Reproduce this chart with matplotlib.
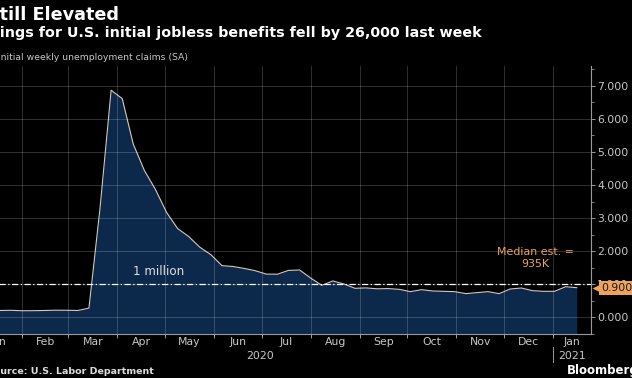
import numpy as np
import pandas as pd
import matplotlib
matplotlib.use("Agg")
from matplotlib import pyplot as plt
import matplotlib.dates as mdates
import matplotlib.transforms as mtransforms
from matplotlib.ticker import MultipleLocator, FixedLocator, FixedFormatter, NullFormatter, FormatStrFormatter

# weekly initial jobless claims (SA), millions, week ending Saturday
weeks = pd.date_range("2020-01-04", "2021-01-16", freq="W-SAT")
claims = [0.214, 0.207, 0.211, 0.216, 0.202, 0.205, 0.211, 0.219, 0.217, 0.211,
          0.282, 3.307, 6.867, 6.615, 5.237, 4.442, 3.867, 3.176, 2.687, 2.446,
          2.123, 1.897, 1.566, 1.540, 1.482, 1.413, 1.310, 1.307, 1.422, 1.435,
          1.191, 0.971, 1.104, 1.011, 0.881, 0.893, 0.866, 0.873, 0.849, 0.780,
          0.840, 0.800, 0.790, 0.780, 0.720, 0.750, 0.780, 0.720, 0.860, 0.890,
          0.810, 0.790, 0.790, 0.930, 0.900]
last_value = 0.900
median_est = "935K"
ref_level = 1.0  # 1 million line

month_names = ["Jan", "Feb", "Mar", "Apr", "May", "Jun", "Jul",
               "Aug", "Sep", "Oct", "Nov", "Dec", "Jan"]
x_start = pd.Timestamp("2019-12-28")
x_end = pd.Timestamp("2021-01-25")
year_split = pd.Timestamp("2021-01-01")

navy = "#0c284b"
line_col = "#d6c8bd"
orange = "#eea35c"
txt_col = "#c8c8c8"

fig = plt.figure(figsize=(6.32, 3.78), dpi=100, facecolor="black")
ax = fig.add_axes([-33 / 632, 44 / 378, 624 / 632, 268 / 378])
ax.set_facecolor("black")

ax.fill_between(weeks, claims, -0.5, color=navy, lw=0, zorder=1)
ax.plot(weeks, claims, color=line_col, lw=0.8, zorder=2)
ax.axhline(ref_level, color="white", lw=0.9, linestyle=(0, (5, 2, 1, 2)), zorder=3)

ax.set_xlim(x_start, x_end)
ax.set_ylim(-0.5, 7.6)

# y axis on the right
ax.yaxis.tick_right()
ax.yaxis.set_major_locator(MultipleLocator(1))
ax.yaxis.set_minor_locator(MultipleLocator(0.5))
ax.yaxis.set_major_formatter(FormatStrFormatter("%.3f"))
ax.tick_params(axis="y", which="major", length=3, width=0.7, color="#999999",
               labelcolor=txt_col, labelsize=7.8, pad=1.5)
ax.tick_params(axis="y", which="minor", length=2, width=0.6, color="#999999")

# x axis: ticks at month starts, labels mid month
month_starts = pd.date_range("2020-01-01", "2021-02-01", freq="MS")
ax.xaxis.set_major_locator(mdates.MonthLocator())
ax.xaxis.set_major_formatter(NullFormatter())
mids = []
for i in range(len(month_names)):
    a = max(month_starts[i], x_start)
    b = min(month_starts[i + 1], x_end)
    mids.append(mdates.date2num(a + (b - a) / 2))
ax.xaxis.set_minor_locator(FixedLocator(mids))
ax.xaxis.set_minor_formatter(FixedFormatter(month_names))
ax.tick_params(axis="x", which="major", length=3, width=0.7, color="#999999")
ax.tick_params(axis="x", which="minor", length=0, labelcolor=txt_col,
               labelsize=7.8, pad=2)

for s in ["top", "left"]:
    ax.spines[s].set_visible(False)
for s in ["right", "bottom"]:
    ax.spines[s].set_color("#9a9a9a")
    ax.spines[s].set_linewidth(0.8)

ax.set_axisbelow(False)
ax.grid(True, which="major", color="white", alpha=0.22, lw=0.6)

# year labels
trans = mtransforms.blended_transform_factory(ax.transData, ax.transAxes)
ax.text(x_start + (year_split - x_start) / 2, -0.082, "2020", transform=trans,
        ha="center", va="center", color=txt_col, fontsize=7.8)
ax.text(year_split + (x_end - year_split) / 2, -0.082, "2021", transform=trans,
        ha="center", va="center", color=txt_col, fontsize=7.8)
ax.plot([year_split, year_split], [-0.048, -0.105], transform=trans,
        color="#9a9a9a", lw=0.7, clip_on=False)

# annotations
ax.text(pd.Timestamp("2020-04-27"), 1.39, "1 million", color="#e0e0e0",
        fontsize=8.6, ha="center", va="center", zorder=4)
ax.text(pd.Timestamp("2020-12-21"), 1.79, "Median est. =\n" + median_est,
        color=orange, fontsize=7.9, ha="center", va="center",
        linespacing=1.3, zorder=4)

# last value tag
trans2 = mtransforms.blended_transform_factory(ax.transAxes, ax.transData)
ax.plot(1.0 + 7 / 624, last_value, marker="<", ms=8, color=orange, mec="none",
        transform=trans2, clip_on=False, zorder=5)
ax.text(1.0 + 10 / 624, last_value, "%.3f" % last_value, transform=trans2,
        ha="left", va="center", fontsize=7.8, color="#1a1a1a", zorder=6,
        bbox=dict(boxstyle="square,pad=0.2", fc=orange, ec="none"))

# titles and footer
fig.text(-13 / 632, 1 - 19.5 / 378, "Still Elevated", color="white",
         fontsize=12.7, fontweight="bold", ha="left", va="baseline")
fig.text(-19.5 / 632, 1 - 37.5 / 378,
         "Filings for U.S. initial jobless benefits fell by 26,000 last week",
         color="white", fontsize=10.3, fontweight="bold", ha="left", va="baseline")
fig.text(-2 / 632, 1 - 60 / 378, "Initial weekly unemployment claims (SA)",
         color=txt_col, fontsize=6.7, ha="left", va="baseline")
fig.text(-13 / 632, 4 / 378, "Source: U.S. Labor Department", color="#dddddd",
         fontsize=6.8, fontweight="bold", ha="left", va="baseline")
fig.text(567 / 632, 4 / 378, "Bloomberg", color="white", fontsize=8.5,
         fontweight="bold", ha="left", va="baseline")

plt.savefig("out.png", dpi=100, facecolor="black")
